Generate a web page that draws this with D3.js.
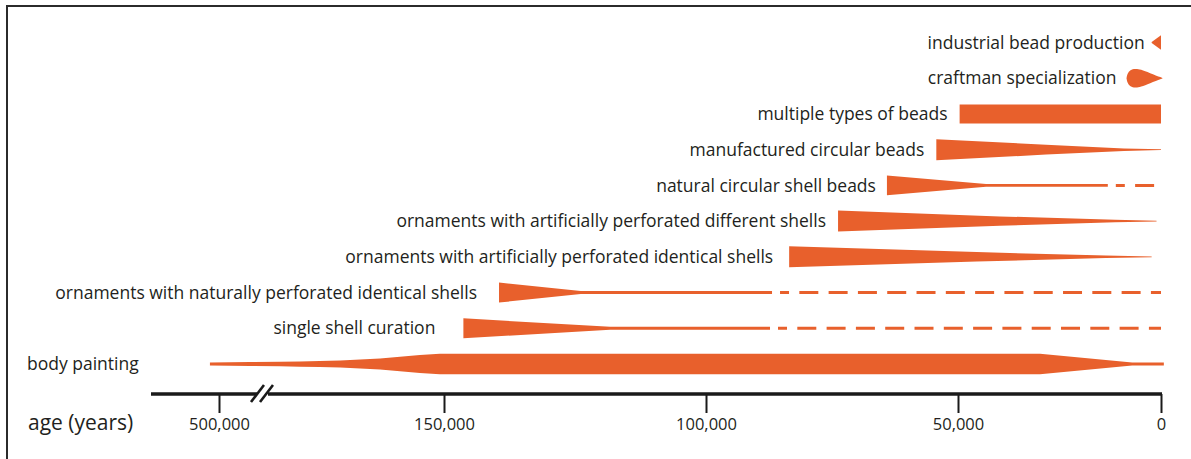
<!DOCTYPE html>
<html>
<head>
<meta charset="utf-8">
<script src="https://cdn.jsdelivr.net/npm/d3@7"></script>
<style>
  html, body { margin: 0; padding: 0; background: #ffffff; }
  svg { display: block; }
  text { font-family: "Open Sans", "Noto Sans", sans-serif; fill: #231f20; }
</style>
</head>
<body>
<svg id="chart" width="1191" height="459"></svg>
<script>
// ---------------- DATA ----------------
const categories = [
  "industrial bead production",
  "craftman specialization",
  "multiple types of beads",
  "manufactured circular beads",
  "natural circular shell beads",
  "ornaments with artificially perforated different shells",
  "ornaments with artificially perforated identical shells",
  "ornaments with naturally perforated identical shells",
  "single shell curation",
  "body painting"
];

// profiles: [age in years, relative thickness 0..1]
const industrialProfile = [[2300, 0.04], [0, 0.7]];
const craftmanProfile = [[8500, 0.0], [8280, 0.45], [7600, 0.8], [6350, 0.92], [5000, 0.84], [2840, 0.5], [-350, 0.03]];
const multipleProfile = [[49600, 0.9], [0, 0.9]];
const manufacturedProfile = [[54300, 1.0], [28300, 0.47], [9100, 0.12], [0, 0.03]];
const naturalBeadsProfile = [[64100, 0.95], [43100, 0.14], [13100, 0.14]];
const differentProfile = [[73800, 1.0], [39700, 0.45], [11300, 0.12], [1100, 0.03]];
const identicalProfile = [[83500, 1.0], [45400, 0.45], [13600, 0.12], [2300, 0.03]];
const naturallyPerforatedProfile = [[139500, 0.95], [123900, 0.14], [86900, 0.14]];
const singleShellProfile = [[146300, 0.95], [118300, 0.14], [87300, 0.14]];
const bodyPaintingProfile = [[502000, 0.15], [492700, 0.19], [181300, 0.22], [177500, 0.25],
  [173700, 0.29], [169800, 0.34], [166000, 0.43], [162200, 0.53], [158400, 0.69],
  [154600, 0.85], [152300, 0.93], [150800, 0.97], [29800, 0.97], [7100, 0.14], [-700, 0.14]];

const profiles = [industrialProfile, craftmanProfile, multipleProfile, manufacturedProfile,
  naturalBeadsProfile, differentProfile, identicalProfile, naturallyPerforatedProfile,
  singleShellProfile, bodyPaintingProfile];

// uncertain (dashed) continuation: [from age, to age] per category (null if none)
const dashedSpans = [null, null, null, null, [13100, 0], null, null, [86900, 0], [87300, 0], null];

const tickValues = [500000, 150000, 100000, 50000, 0];
const axisTitle = "age (years)";

// ---------------- DRAW ----------------
const ORANGE = "#e8602c";
const labelGaps = [7, 10, 12, 12, 11, 12, 16, 22, 28, 0];
const svg = d3.select("#chart");

// frame
svg.append("line").attr("x1", 7).attr("x2", 1191).attr("y1", 6).attr("y2", 6)
  .attr("stroke", "#2b2b2b").attr("stroke-width", 2);
svg.append("line").attr("x1", 7).attr("x2", 7).attr("y1", 5).attr("y2", 459)
  .attr("stroke", "#2b2b2b").attr("stroke-width", 2);

// broken, hand-spaced time axis (piecewise linear)
const x = d3.scaleLinear()
  .domain([515000, 500000, 490000, 184600, 150000, 100000, 50000, 0])
  .range([151, 219, 261.5, 262.7, 444, 706, 958, 1161]);

const y = d3.scalePoint().domain(categories).range([42.5, 364]);
const half = d3.scaleLinear().domain([0, 1]).range([0, 10.5]);

categories.forEach((cat, i) => {
  const cy = y(cat);
  const prof = profiles[i];
  const area = d3.area()
    .x(d => x(d[0]))
    .y0(d => cy - half(d[1]))
    .y1(d => cy + half(d[1]))
    .curve(i === 1 ? d3.curveBasis : d3.curveLinear);
  svg.append("path").datum(prof).attr("d", area).attr("fill", ORANGE);

  const span = dashedSpans[i];
  if (span) {
    const x0 = x(span[0]), x1 = x(span[1]);
    const L = x1 - x0;
    const dash = 19, gap = 10.3;
    const n = Math.round((L - 8 - 9 - 9 - gap) / (dash + gap));
    const arr = [0, 8, 9];
    for (let k = 0; k < n; k++) arr.push(gap, dash);
    arr.push(gap, 9, 0, 500);
    svg.append("line")
      .attr("x1", x0).attr("x2", x1).attr("y1", cy).attr("y2", cy)
      .attr("stroke", ORANGE).attr("stroke-width", 3)
      .attr("stroke-dasharray", arr.join(","));
  }

  const lbl = svg.append("text")
    .attr("y", cy).attr("dy", "0.35em")
    .style("font-size", "17.5px")
    .text(cat);
  if (i === 9) {
    lbl.attr("x", 27).attr("text-anchor", "start");
  } else {
    lbl.attr("x", x(prof[0][0]) - labelGaps[i]).attr("text-anchor", "end");
  }
});

// axis
const axisY = 394;
const axisG = svg.append("g").attr("transform", `translate(0,${axisY})`);
const axis = d3.axisBottom(x).tickValues(tickValues).tickSize(19).tickPadding(5)
  .tickFormat(d3.format(","));
axisG.call(axis);
axisG.select(".domain").remove();
axisG.selectAll(".tick line").attr("stroke", "#1a1a1a").attr("stroke-width", 2);
axisG.selectAll(".tick text").style("font-size", "16.5px").style("font-family", "\"Open Sans\", sans-serif").attr("fill", "#231f20");

// axis baseline with break
svg.append("line").attr("x1", 151).attr("x2", 257).attr("y1", axisY).attr("y2", axisY)
  .attr("stroke", "#1a1a1a").attr("stroke-width", 3.5);
svg.append("line").attr("x1", 268).attr("x2", 1162).attr("y1", axisY).attr("y2", axisY)
  .attr("stroke", "#1a1a1a").attr("stroke-width", 3.5);
[[251, 264], [260, 273]].forEach(([a, b]) => {
  svg.append("line").attr("x1", a).attr("y1", 402).attr("x2", b).attr("y2", 385)
    .attr("stroke", "#1a1a1a").attr("stroke-width", 2.6);
});

svg.append("text").attr("x", 28).attr("y", 423).attr("dy", "0.35em")
  .style("font-size", "21px").text(axisTitle);
</script>
</body>
</html>
